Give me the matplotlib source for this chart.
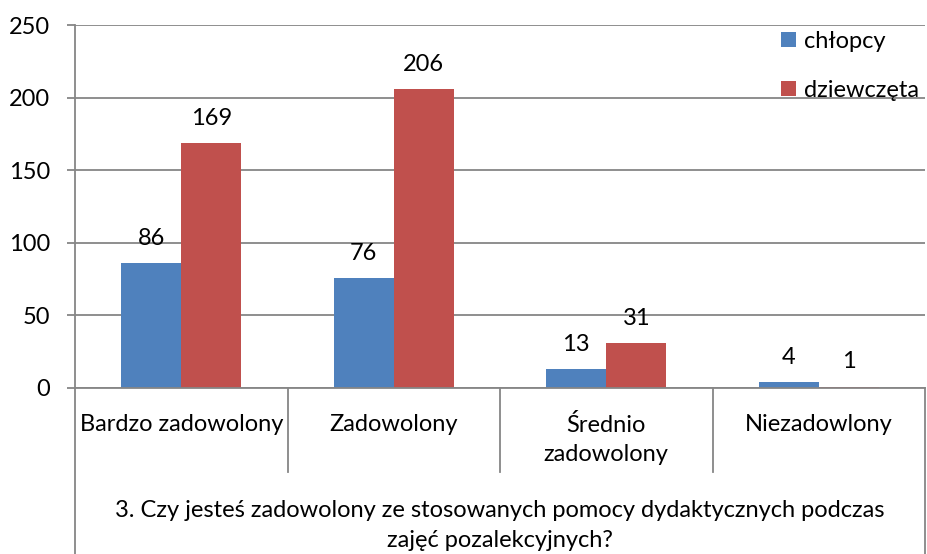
import numpy as np
import matplotlib
matplotlib.use("Agg")
from matplotlib import pyplot as plt
import matplotlib.transforms as mtransforms

# dane
categories = ["Bardzo zadowolony", "Zadowolony", "Średnio\nzadowolony", "Niezadowlony"]
chlopcy = [86, 76, 13, 4]
dziewczeta = [169, 206, 31, 1]
series_names = ["chłopcy", "dziewczęta"]
question = "3. Czy jesteś zadowolony ze stosowanych pomocy dydaktycznych podczas\nzajęć pozalekcyjnych?"
yticks = [0, 50, 100, 150, 200, 250]

plt.rcParams['font.family'] = ['Lato', 'DejaVu Sans']
fs = 17
grey = '#868686'

fig = plt.figure(figsize=(9.27, 5.54), dpi=100)
ax = fig.add_axes([75 / 927, 1 - 388 / 554, 850 / 927, 363 / 554])

x = np.arange(len(categories))
w = 0.283
b1 = ax.bar(x - w / 2, chlopcy, w, color='#4F81BD', label=series_names[0])
b2 = ax.bar(x + w / 2, dziewczeta, w, color='#C0504D', label=series_names[1])

# etykiety danych
for bars, vals in [(b1, chlopcy), (b2, dziewczeta)]:
    for r, v in zip(bars, vals):
        ax.annotate(str(v), (r.get_x() + r.get_width() / 2, v), xytext=(0, 13),
                    textcoords='offset points', ha='center', va='baseline', fontsize=fs)

ax.set_xlim(-0.5, len(categories) - 0.5)
ax.set_ylim(0, 250)
ax.set_yticks(yticks)
ax.yaxis.grid(True, color=grey, linewidth=1.3)
ax.set_axisbelow(True)
ax.tick_params(axis='y', length=6, width=1.3, color=grey, pad=12, labelsize=fs)
ax.set_xticks([])
for s in ['top', 'right']:
    ax.spines[s].set_visible(False)
ax.spines['left'].set_color(grey)
ax.spines['bottom'].set_color(grey)
ax.spines['left'].set_linewidth(1.3)
ax.spines['bottom'].set_linewidth(1.3)

# oś kategorii (dwupoziomowa)
tr = mtransforms.blended_transform_factory(ax.transData, ax.transAxes)
for b in np.arange(0.5, len(categories) - 0.5, 1):
    ax.plot([b, b], [0, -0.231], transform=tr, color=grey, lw=1.3, clip_on=False)
for b in [-0.5, len(categories) - 0.5]:
    ax.plot([b, b], [0, -0.5], transform=tr, color=grey, lw=1.3, clip_on=False)
for xi, c in zip(x, categories):
    ax.text(xi, -0.071, c, transform=tr, ha='center', va='top', fontsize=fs, linespacing=1.5)
ax.text(1.5, -0.309, question, transform=tr, ha='center', va='top', fontsize=fs, linespacing=1.5)

ax.legend(loc='upper left', bbox_to_anchor=(781 / 927, 1 - 31 / 554), bbox_transform=fig.transFigure,
          frameon=False, borderpad=0, borderaxespad=0, handlelength=0.62, handleheight=0.62,
          handletextpad=0.35, labelspacing=1.17, fontsize=fs)

fig.savefig("out.png", dpi=100)
